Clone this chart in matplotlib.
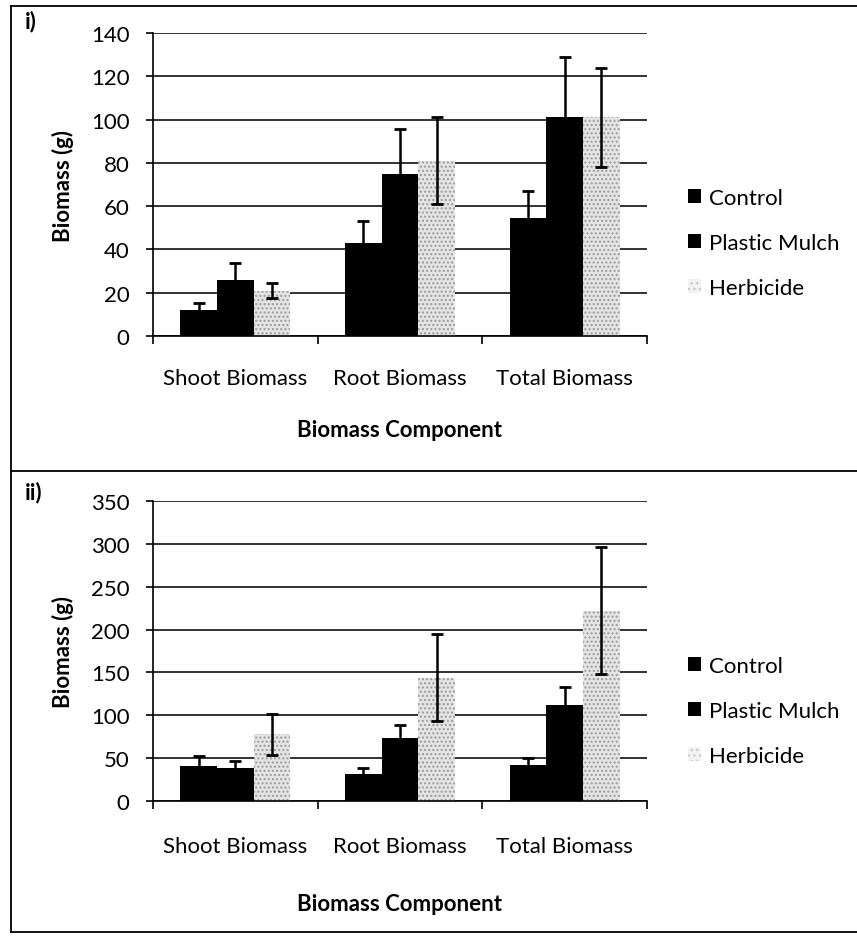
import numpy as np
import matplotlib
matplotlib.use("Agg")
import matplotlib.pyplot as plt
from matplotlib.lines import Line2D
from matplotlib.patches import Patch

# data
categories = ["Shoot Biomass", "Root Biomass", "Total Biomass"]
series = ["Control", "Plastic Mulch", "Herbicide"]

# panel i)
control_i = [12, 43, 54.5]
control_i_err = [3.4, 10, 12.4]
plastic_i = [25.8, 75, 101]
plastic_i_err = [8, 20.8, 28]
herbicide_i = [21, 81, 101]
herbicide_i_err = [3.6, 20, 23]

# panel ii)
control_ii = [40.6, 32, 42.5]
control_ii_err = [12, 6.6, 8.2]
plastic_ii = [38.6, 73.7, 112]
plastic_ii_err = [7.8, 14.5, 20.7]
herbicide_ii = [78, 144, 222]
herbicide_ii_err = [24, 51, 74]

plt.rcParams["font.family"] = ["Lato", "DejaVu Sans"]
plt.rcParams["hatch.linewidth"] = 1.0

W, H = 857, 937
fig = plt.figure(figsize=(W / 100, H / 100), dpi=100)


def fx(px):
    return px / W


def fy(py):
    return 1 - py / H


def draw_panel(ax, values, errors, ymax, ystep, tag, tag_y, tick_pad, xlabel_y):
    x = np.arange(len(categories))
    width = 0.222
    styles = [
        dict(color="black"),
        dict(color="black"),
        dict(facecolor="#e4e4e4", edgecolor="#9a9a9a", hatch="....", linewidth=0),
    ]
    handles = []
    for k, (vals, errs, st) in enumerate(zip(values, errors, styles)):
        pos = x + (k - 1) * width
        ax.bar(pos, vals, width, zorder=2, **st)
        ax.errorbar(pos, vals, yerr=errs, fmt="none", ecolor="black",
                    elinewidth=1.8, capsize=4, capthick=2, zorder=3)
        if k < 2:
            handles.append(Patch(facecolor="black", label=series[k]))
        else:
            handles.append(Patch(facecolor="#f2f2f2", edgecolor="#c8c8c8", hatch="...",
                                 linewidth=0, label=series[k]))

    ax.set_xlim(-0.5, 2.5)
    ax.set_ylim(0, ymax)
    ax.set_yticks(np.arange(0, ymax + 1, ystep))
    ax.yaxis.grid(True, color="#222222", linewidth=1.3, zorder=0)
    ax.set_axisbelow(True)

    ax.set_xticks(x)
    ax.set_xticklabels(categories, fontsize=16)
    ax.set_xticks([-0.5, 0.5, 1.5, 2.5], minor=True)
    ax.tick_params(axis="x", which="major", length=0, pad=tick_pad)
    ax.tick_params(axis="x", which="minor", length=6, width=1.2, direction="out")
    ax.tick_params(axis="y", length=5, width=1.2, direction="out", pad=12, labelsize=16)

    for s in ["top", "right"]:
        ax.spines[s].set_visible(False)
    ax.spines["left"].set_linewidth(1.2)
    ax.spines["bottom"].set_linewidth(1.2)

    ax.set_xlabel("Biomass Component", fontsize=16, fontweight="bold")
    ax.xaxis.set_label_coords(0.5, xlabel_y)
    ax.set_ylabel("Biomass (g)", fontsize=16, fontweight="bold")
    ax.yaxis.set_label_coords(-0.16, 0.5)

    fig.text(fx(25), fy(tag_y), tag, fontsize=16, fontweight="bold", ha="left", va="center")
    return handles


legend_kw = dict(loc="upper left", bbox_transform=fig.transFigure, frameon=False,
                 fontsize=16, handlelength=0.6, handleheight=0.6, handletextpad=0.35,
                 labelspacing=1.13, borderpad=0, borderaxespad=0)

ax1 = fig.add_axes([fx(153), fy(337), fx(647) - fx(153), fy(34) - fy(337)])
h = draw_panel(ax1,
               [control_i, plastic_i, herbicide_i],
               [control_i_err, plastic_i_err, herbicide_i_err],
               140, 20, "i)", 22, 23, -0.275)
ax1.legend(handles=h, bbox_to_anchor=(fx(688), fy(189)), **legend_kw)

ax2 = fig.add_axes([fx(153), fy(802), fx(647) - fx(153), fy(502) - fy(802)])
h = draw_panel(ax2,
               [control_ii, plastic_ii, herbicide_ii],
               [control_ii_err, plastic_ii_err, herbicide_ii_err],
               350, 50, "ii)", 493, 25, -0.308)
ax2.legend(handles=h, bbox_to_anchor=(fx(688), fy(657)), **legend_kw)

# outer frame lines
frame = [((11, 7), (11, 933)), ((11, 7), (857, 7)),
         ((11, 472), (857, 472)), ((11, 933), (857, 933))]
for (x0, y0), (x1, y1) in frame:
    fig.add_artist(Line2D([fx(x0), fx(x1)], [fy(y0), fy(y1)],
                          transform=fig.transFigure, color="black", linewidth=1.3))

fig.savefig("out.png", dpi=100)
